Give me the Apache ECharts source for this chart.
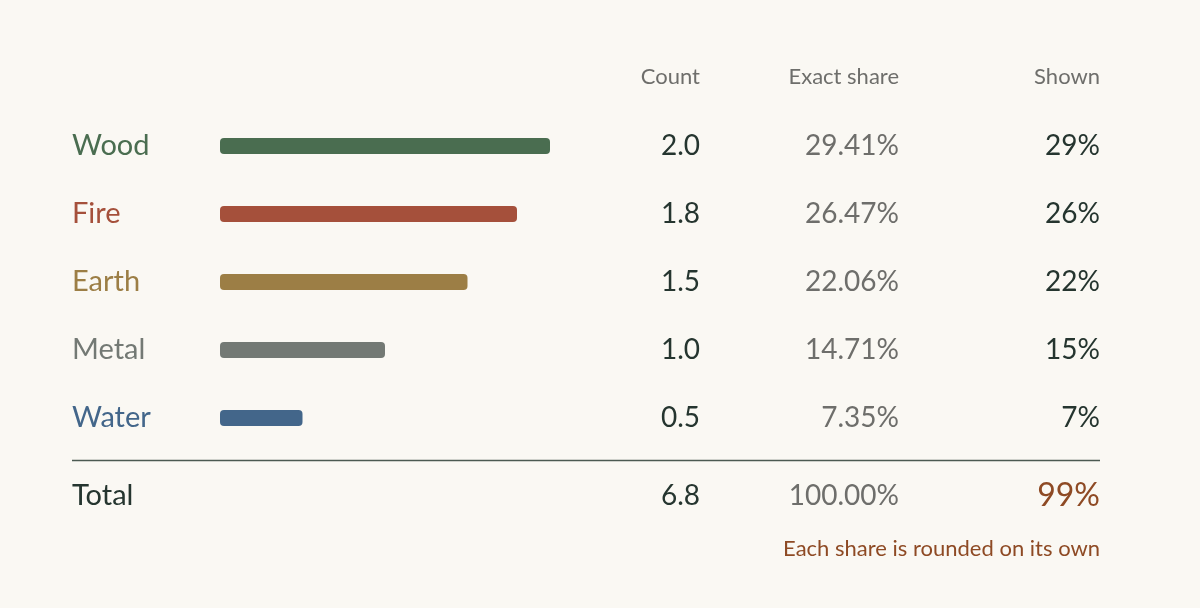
<!DOCTYPE html>
<html>
<head>
<meta charset="utf-8">
<script src="https://cdn.jsdelivr.net/npm/echarts@6/dist/echarts.min.js"></script>
<style>
  html, body { margin: 0; padding: 0; background: #faf8f3; }
  #chart { width: 1200px; height: 608px; }
</style>
</head>
<body>
<div id="chart"></div>
<script>
const categories = ['Wood', 'Fire', 'Earth', 'Metal', 'Water'];
const counts = [2.0, 1.8, 1.5, 1.0, 0.5];
const exactShares = ['29.41%', '26.47%', '22.06%', '14.71%', '7.35%'];
const shownShares = ['29%', '26%', '22%', '15%', '7%'];
const colors = ['#4a6d50', '#a5503b', '#9c7e45', '#737974', '#43668a'];
const headers = ['Count', 'Exact share', 'Shown'];
const totalRow = ['Total', '6.8', '100.00%', '99%'];
const footnote = 'Each share is rounded on its own';

const font = 'Lato, "Open Sans", sans-serif';
const dark = '#25352f';
const grey = '#6e6e6b';
const rust = '#8e4a24';

const chart = echarts.init(document.getElementById('chart'));

chart.setOption({
  backgroundColor: '#faf8f3',
  animation: false,
  grid: {left: 220, width: 330, top: 112, height: 340},
  xAxis: {type: 'value', min: 0, max: 2, show: false},
  yAxis: {type: 'category', data: categories, inverse: true, show: false},
  series: [{
    type: 'bar',
    barWidth: 16,
    data: counts.map((v, i) => ({value: v, itemStyle: {color: colors[i], borderRadius: 4}}))
  }]
});

// table text placed on the rows of the category axis
const cols = [700, 899, 1100];
const g = [];
const txt = (x, y, text, color, size, align) => g.push({
  type: 'text', x: x, y: y,
  style: {text: text, fill: color, font: `${size}px ${font}`, textAlign: align || 'right', textVerticalAlign: 'middle'}
});

headers.forEach((h, j) => txt(cols[j], 77, h, grey, 22));
categories.forEach((c, i) => {
  const y = chart.convertToPixel({yAxisIndex: 0}, c);
  txt(72, y, c, colors[i], 29, 'left');
  txt(cols[0], y, counts[i].toFixed(1), dark, 28);
  txt(cols[1], y, exactShares[i], grey, 28);
  txt(cols[2], y, shownShares[i], dark, 28);
});
g.push({type: 'line', shape: {x1: 72, y1: 460.5, x2: 1100, y2: 460.5}, style: {stroke: '#4c5a52', lineWidth: 1.5}});
txt(72, 496, totalRow[0], dark, 29, 'left');
txt(cols[0], 496, totalRow[1], dark, 28);
txt(cols[1], 496, totalRow[2], grey, 28);
txt(cols[2], 496, totalRow[3], rust, 32);
txt(cols[2], 549, footnote, rust, 22);

chart.setOption({graphic: g});
</script>
</body>
</html>
